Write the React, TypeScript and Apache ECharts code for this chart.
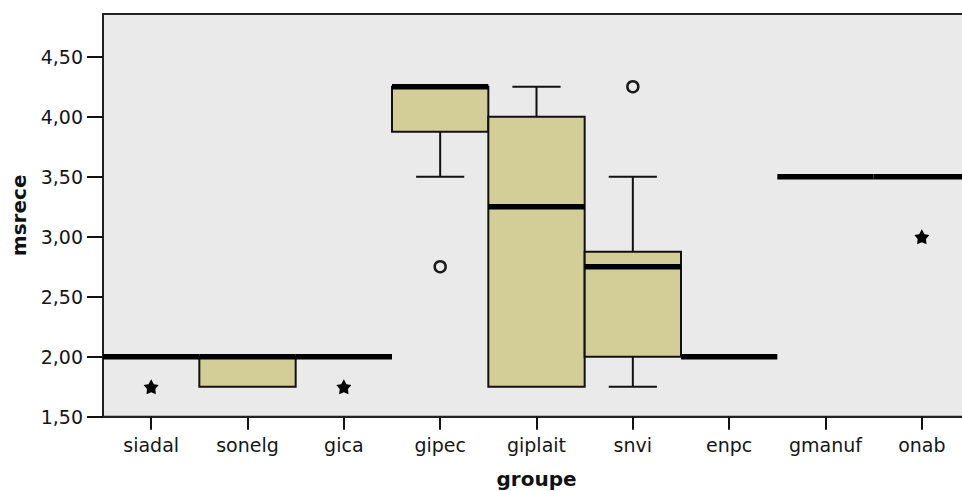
import React, { useEffect, useRef } from "react";
import * as echarts from "echarts";

const categories = ["siadal", "sonelg", "gica", "gipec", "giplait", "snvi", "enpc", "gmanuf", "onab"];
const boxMin = [2.0, 1.75, 2.0, 3.5, 1.75, 1.75, 2.0, 3.5, 3.5];
const boxQ1 = [2.0, 1.75, 2.0, 3.875, 1.75, 2.0, 2.0, 3.5, 3.5];
const boxMedian = [2.0, 2.0, 2.0, 4.25, 3.25, 2.75, 2.0, 3.5, 3.5];
const boxQ3 = [2.0, 2.0, 2.0, 4.25, 4.0, 2.875, 2.0, 3.5, 3.5];
const boxMax = [2.0, 2.0, 2.0, 4.25, 4.25, 3.5, 2.0, 3.5, 3.5];
const outlierCats = ["gipec", "snvi"];
const outlierValues = [2.75, 4.25];
const extremeCats = ["siadal", "gica", "onab"];
const extremeValues = [1.75, 1.75, 3.0];
const yTicks = [1.5, 2.0, 2.5, 3.0, 3.5, 4.0, 4.5];

const FONT = "DejaVu Sans";
const STAR =
  "path://M0,-10 L3.4,-3.9 L9.5,-3.1 L5.3,1.8 L5.9,8.1 L0,5.6 L-5.9,8.1 L-5.3,1.8 L-9.5,-3.1 L-3.4,-3.9 Z";

export default function App() {
  const ref = useRef<HTMLDivElement>(null);
  useEffect(() => {
    if (!ref.current) return;
    const chart = echarts.init(ref.current, null, { renderer: "svg" });
    const boxData = categories.map((_, i) => [i, boxMin[i], boxQ1[i], boxMedian[i], boxQ3[i], boxMax[i]]);
    const option: any = {
      animation: false,
      backgroundColor: "#ffffff",
      grid: {
        left: 103,
        top: 14,
        width: 867,
        height: 402.7,
        containLabel: false,
        outerBoundsMode: "none",
        show: true,
        backgroundColor: "#EAEAEA",
        borderColor: "#222",
        borderWidth: 2,
      },
      xAxis: {
        type: "category",
        data: categories,
        boundaryGap: true,
        name: "groupe",
        nameLocation: "middle",
        nameGap: 52,
        nameTextStyle: { fontFamily: FONT, fontWeight: "bold", fontSize: 20, color: "#111" },
        axisLine: { show: true, lineStyle: { color: "#222", width: 2 } },
        axisTick: { show: true, alignWithLabel: true, length: 13, lineStyle: { color: "#111", width: 2 } },
        axisLabel: { fontFamily: FONT, fontSize: 19, color: "#161616", margin: 19 },
        splitLine: { show: false },
      },
      yAxis: {
        type: "value",
        min: 1.5,
        max: 1.5 + 402.7 / 120,
        interval: 0.5,
        name: "msrece",
        nameLocation: "middle",
        nameGap: 74,
        nameTextStyle: { fontFamily: FONT, fontWeight: "bold", fontSize: 20, color: "#111" },
        axisLine: { show: true, lineStyle: { color: "#222", width: 2 } },
        axisTick: { show: true, length: 16, customValues: yTicks, lineStyle: { color: "#111", width: 2 } },
        axisLabel: {
          fontFamily: FONT,
          fontSize: 19,
          color: "#161616",
          margin: 20,
          customValues: yTicks,
          formatter: (v: number) => v.toFixed(2).replace(".", ","),
        },
        splitLine: { show: false },
      },
      series: [
        {
          type: "custom",
          data: boxData,
          encode: { x: 0, y: [1, 2, 3, 4, 5] },
          renderItem: (params: any, api: any) => {
            const idx = api.value(0);
            const vMin = api.value(1);
            const q1 = api.value(2);
            const med = api.value(3);
            const q3 = api.value(4);
            const vMax = api.value(5);
            const band = api.size([1, 0])[0];
            const cx = api.coord([idx, med])[0];
            const yOf = (v: number) => api.coord([idx, v])[1];
            const children: any[] = [];
            const lineStyle = { stroke: "#111", lineWidth: 2 };
            if (vMax > q3) {
              children.push({ type: "line", shape: { x1: cx, y1: yOf(q3), x2: cx, y2: yOf(vMax) }, style: lineStyle });
              children.push({ type: "line", shape: { x1: cx - band / 4, y1: yOf(vMax), x2: cx + band / 4, y2: yOf(vMax) }, style: lineStyle });
            }
            if (vMin < q1) {
              children.push({ type: "line", shape: { x1: cx, y1: yOf(q1), x2: cx, y2: yOf(vMin) }, style: lineStyle });
              children.push({ type: "line", shape: { x1: cx - band / 4, y1: yOf(vMin), x2: cx + band / 4, y2: yOf(vMin) }, style: lineStyle });
            }
            if (q3 > q1) {
              children.push({
                type: "rect",
                shape: { x: cx - band / 2, y: yOf(q3), width: band, height: yOf(q1) - yOf(q3) },
                style: { fill: "#D3CE98", stroke: "#111", lineWidth: 2 },
              });
            }
            children.push({
              type: "line",
              shape: { x1: cx - band / 2, y1: yOf(med), x2: cx + band / 2, y2: yOf(med) },
              style: { stroke: "#000", lineWidth: 5.5 },
            });
            return { type: "group", children };
          },
          z: 2,
        },
        {
          type: "scatter",
          data: outlierCats.map((c, i) => [c, outlierValues[i]]),
          symbol: "circle",
          symbolSize: 11,
          itemStyle: { color: "rgba(0,0,0,0)", borderColor: "#1a1a1a", borderWidth: 2.5, opacity: 1 },
          z: 3,
        },
        {
          type: "scatter",
          data: extremeCats.map((c, i) => [c, extremeValues[i]]),
          symbol: STAR,
          symbolSize: 15,
          itemStyle: { color: "#000", opacity: 1 },
          z: 3,
        },
      ],
    };
    chart.setOption(option);
    return () => chart.dispose();
  }, []);
  return (
    <div style={{ position: "fixed", left: 0, top: 0, width: 962, height: 491, overflow: "hidden", background: "#fff" }}>
      <div ref={ref} style={{ width: 980, height: 491 }} />
    </div>
  );
}
